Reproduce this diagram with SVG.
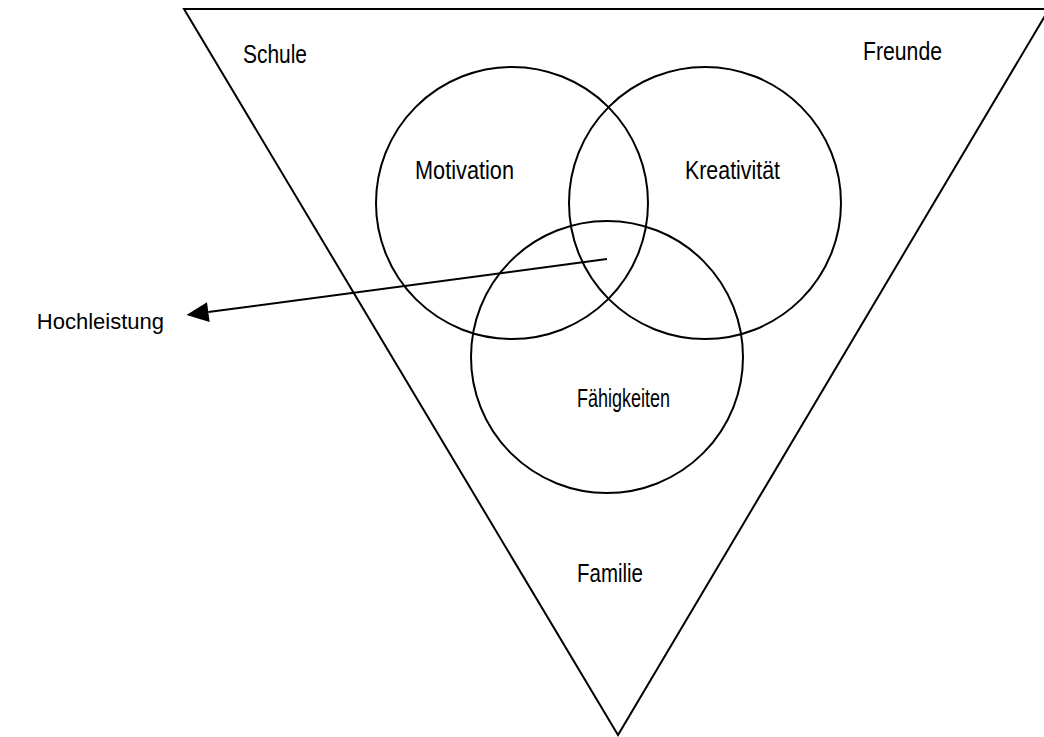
<svg xmlns="http://www.w3.org/2000/svg" width="1044" height="737" viewBox="0 0 1044 737">
<style>
.ln{fill:none;stroke:#000;stroke-width:2}
.t{font-family:"Liberation Sans",Arial,sans-serif;font-size:26px;fill:#000}
.big{font-family:"Liberation Sans",Arial,sans-serif;font-size:22px;fill:#000}
</style>
<defs>
<marker id="ah" markerUnits="userSpaceOnUse" markerWidth="24" markerHeight="22" refX="2" refY="10" orient="auto" viewBox="0 0 24 20">
<path d="M24,10 L2,0 L2,20 Z" fill="#000"/>
</marker>
</defs>
<rect width="1044" height="737" fill="#fff"/>
<g id="triangle">
<polygon class="ln" points="184,9 1049,9 618,735"/>
<text class="t" x="243" y="63" textLength="64" lengthAdjust="spacingAndGlyphs">Schule</text>
<text class="t" x="863" y="60" textLength="79" lengthAdjust="spacingAndGlyphs">Freunde</text>
<text class="t" x="577" y="582" textLength="66" lengthAdjust="spacingAndGlyphs">Familie</text>
</g>
<g id="motivation">
<circle class="ln" cx="512" cy="203" r="136"/>
<text class="t" x="415" y="179" textLength="99" lengthAdjust="spacingAndGlyphs">Motivation</text>
</g>
<g id="kreativitaet">
<circle class="ln" cx="705" cy="203" r="136"/>
<text class="t" x="685" y="179" textLength="95" lengthAdjust="spacingAndGlyphs">Kreativität</text>
</g>
<g id="faehigkeiten">
<circle class="ln" cx="607" cy="357" r="136"/>
<text class="t" x="577" y="407" textLength="93" lengthAdjust="spacingAndGlyphs">Fähigkeiten</text>
</g>
<g id="hochleistung">
<text class="big" x="164" y="329" text-anchor="end">Hochleistung</text>
</g>
<g id="connectors">
<line class="ln" x1="607" y1="259" x2="208.3" y2="312.1" marker-end="url(#ah)"/>
</g>
</svg>
